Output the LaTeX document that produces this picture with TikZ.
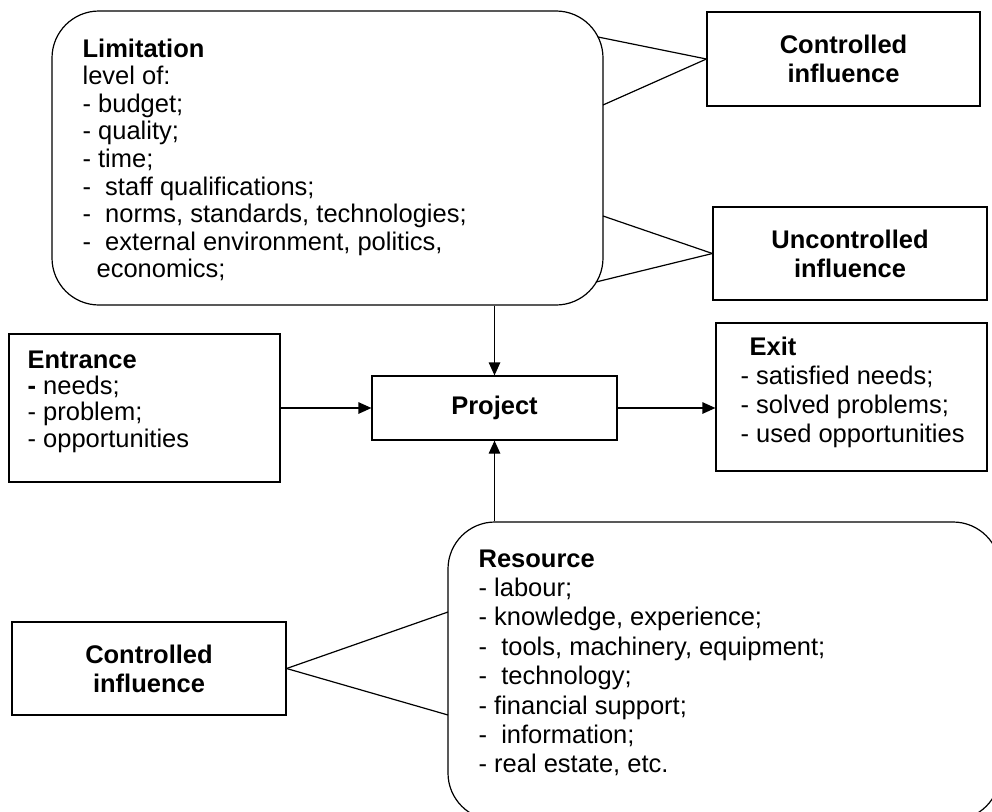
\documentclass[tikz,border=0pt]{standalone}
\usepackage{fontspec}
\setmainfont{Liberation Sans}
\usetikzlibrary{arrows.meta,calc}

\begin{document}
\begin{tikzpicture}[x=1pt,y=-1pt,line width=1.2pt,
  box/.style={draw,rectangle,inner sep=0pt},
  rbox/.style={draw,rectangle,rounded corners=47pt,inner sep=0pt},
  txt/.style={anchor=base west,inner sep=0pt,font=\fontsize{25.5}{29}\selectfont},
  ctxt/.style={align=center,font=\fontsize{25.5}{29}\selectfont\bfseries},
  arr/.style={-{Triangle[length=13pt,width=11.5pt]}}]

\useasboundingbox (0,0) rectangle (992,811);
\clip (0,0) rectangle (992,811);

% frames
\node[rbox,minimum width=551pt,minimum height=294pt] (lim) at (327.5,158) {};
\node[rbox,minimum width=552pt,minimum height=298pt] (res) at (724,671) {};
\node[box,ctxt,minimum width=273pt,minimum height=94pt] (cin) at (843.5,59) {Controlled\\influence};
\node[box,ctxt,minimum width=274pt,minimum height=93pt] (ucin) at (850,253.5) {Uncontrolled\\influence};
\node[box,ctxt,minimum width=274pt,minimum height=93pt] (bcin) at (149,668.5) {Controlled\\influence};
\node[box,minimum width=271pt,minimum height=148pt] (ent) at (144.5,408) {};
\node[box,minimum width=271pt,minimum height=148pt] (exit) at (851.5,397) {};
\node[box,font=\fontsize{25.5}{29}\selectfont\bfseries,minimum width=245pt,minimum height=64pt] (proj) at (494.5,408) {Project};

% contents
\node[txt] (limtxt) at (82,57) {\vtop{\baselineskip=27.6pt
  \hbox{\bfseries Limitation}
  \hbox{level of:}
  \hbox{- budget;}
  \hbox{- quality;}
  \hbox{- time;}
  \hbox{- ~staff qualifications;}
  \hbox{- ~norms, standards, technologies;}
  \hbox{- ~external environment, politics,}
  \hbox{\hskip14pt economics;}}};

\node[txt] (enttxt) at (27,368) {\vtop{\baselineskip=26.4pt
  \hbox{\bfseries Entrance}
  \hbox{\textbf{-} needs;}
  \hbox{- problem;}
  \hbox{- opportunities}}};

\node[txt] (exittxt) at (740,355) {\vtop{\baselineskip=29.3pt
  \hbox{\bfseries\hskip9pt Exit}
  \hbox{- satisfied needs;}
  \hbox{- solved problems;}
  \hbox{- used opportunities}}};

\node[txt] (restxt) at (478,567) {\vtop{\baselineskip=29.4pt
  \hbox{\bfseries Resource}
  \hbox{- labour;}
  \hbox{- knowledge, experience;}
  \hbox{- ~tools, machinery, equipment;}
  \hbox{- ~technology;}
  \hbox{- financial support;}
  \hbox{- ~information;}
  \hbox{- real estate, etc.}}};

% contact points on the rounded frames
\coordinate (la) at (598,37);
\coordinate (lb) at (603,105);
\coordinate (lc) at (603,216);
\coordinate (ld) at (596,282);
\coordinate (ra) at (448,612);
\coordinate (rb) at (448,715);

% influence wedges
\draw (cin.west) -- (la);
\draw (cin.west) -- (lb);
\draw (ucin.west) -- (lc);
\draw (ucin.west) -- (ld);
\draw (bcin.east) -- (ra);
\draw (bcin.east) -- (rb);

% flows into and out of the project
\draw[arr] (proj.north |- lim.south) -- (proj.north);
\draw[arr] (proj.south |- res.north) -- (proj.south);
\draw[arr] (ent.east) -- (proj.west);
\draw[arr] (proj.east) -- (proj.east -| exit.west);
\end{tikzpicture}
\end{document}
